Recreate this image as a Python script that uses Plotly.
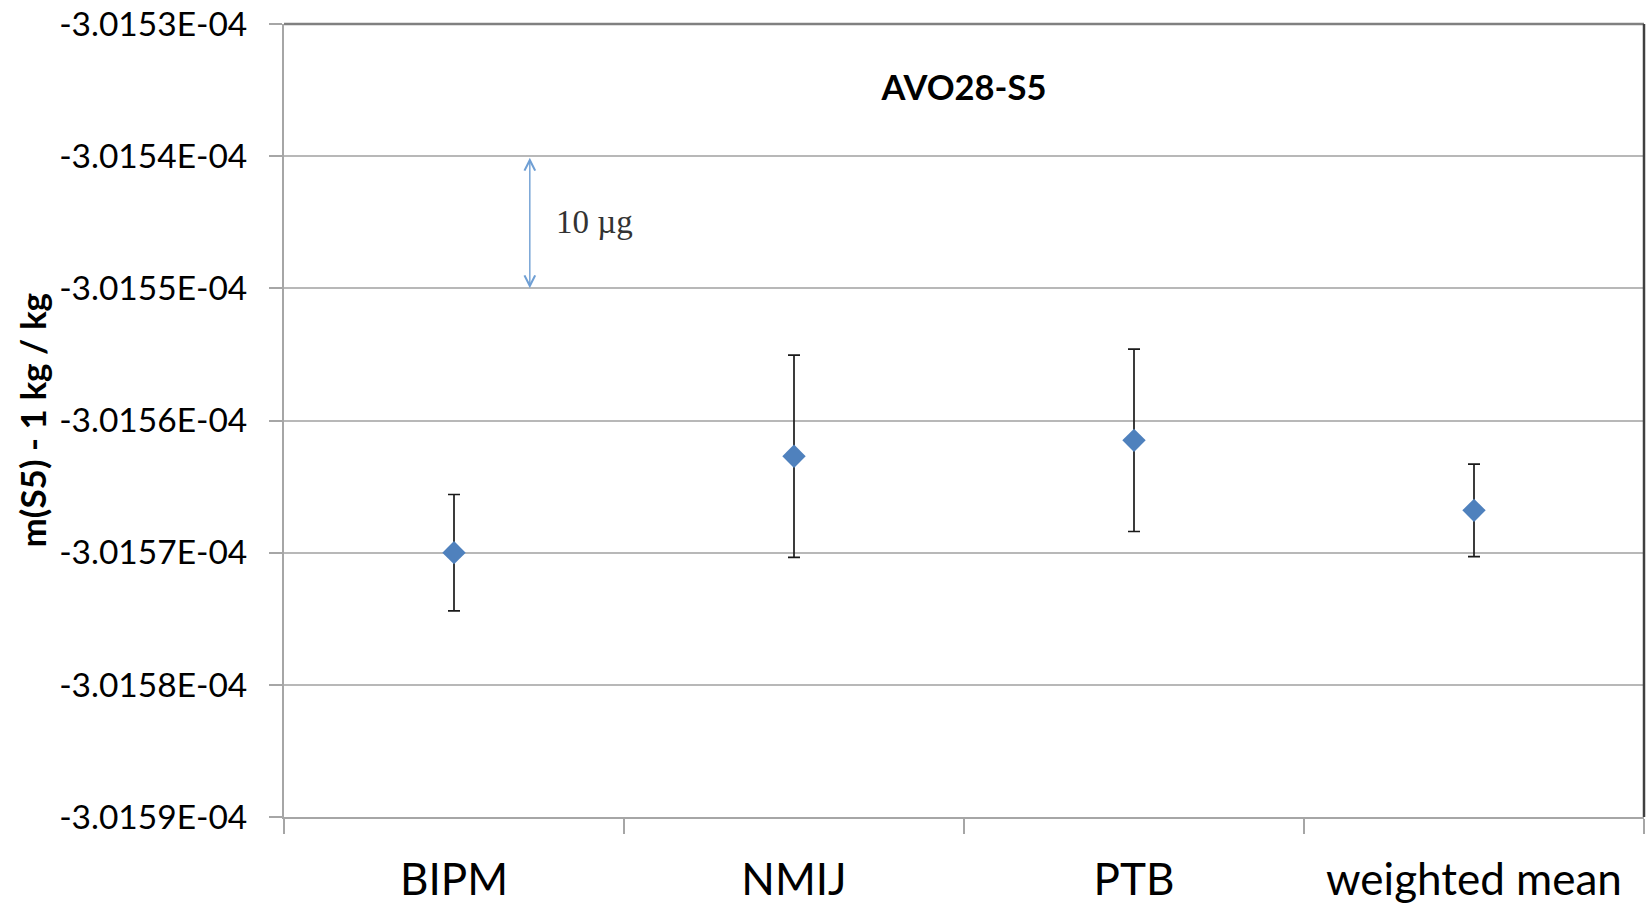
import plotly.graph_objects as go

# ---- data ----
categories = ["BIPM", "NMIJ", "PTB", "weighted mean"]
values = [-3.015700e-4, -3.015627e-4, -3.015615e-4, -3.015668e-4]
errors = [4.4e-9, 7.65e-9, 6.9e-9, 3.5e-9]

y_tickvals = [-3.0153e-4, -3.0154e-4, -3.0155e-4, -3.0156e-4, -3.0157e-4, -3.0158e-4, -3.0159e-4]
y_ticktext = ["-3.0153E-04", "-3.0154E-04", "-3.0155E-04", "-3.0156E-04",
              "-3.0157E-04", "-3.0158E-04", "-3.0159E-04"]
y_range = [-3.0159e-4, -3.0153e-4]

title_text = "AVO28-S5"
y_title = "m(S5) - 1 kg / kg"
scale_label = "10 µg"
scale_from = -3.0154e-4
scale_to = -3.0155e-4

FONT = "Lato"
ERR_COLOR = "#1a1a1a"

fig = go.Figure()

fig.add_trace(go.Scatter(
    x=categories, y=values, mode="markers",
    marker=dict(symbol="diamond", size=18, color="#4F81BD", line=dict(width=0)),
    error_y=dict(type="data", array=errors, visible=True, color=ERR_COLOR,
                 thickness=1.7, width=6),
    showlegend=False,
))

fig.update_layout(
    width=1646, height=906,
    margin=dict(l=284, r=2, t=24, b=86),
    paper_bgcolor="white", plot_bgcolor="white",
    font=dict(family=FONT, color="#000000"),
    title=dict(text="<b>" + title_text + "</b>", x=0.5, xref="paper",
               y=1 - 88 / 906, yref="container", yanchor="middle", xanchor="center",
               font=dict(family=FONT, size=34.5, color="#000000")),
    xaxis=dict(
        type="category", range=[-0.5, 3.5],
        showgrid=False, showline=True, linecolor="#a6a6a6", linewidth=2,
        ticks="outside", tickson="boundaries", ticklen=15, tickcolor="#a6a6a6", tickwidth=2,
        tickfont=dict(family=FONT, size=44, color="#000000"),
        ticklabelstandoff=23,
        zeroline=False,
    ),
    yaxis=dict(
        range=y_range, tickvals=y_tickvals, ticktext=y_ticktext,
        showgrid=True, gridcolor="#b8b8b8", gridwidth=2,
        showline=True, linecolor="#a6a6a6", linewidth=2,
        ticks="outside", ticklen=13, tickcolor="#a6a6a6", tickwidth=2,
        tickfont=dict(family=FONT, size=33.5, color="#000000"),
        ticklabelstandoff=15,
        zeroline=False,
    ),
    shapes=[
        dict(type="line", xref="paper", yref="paper", x0=0, x1=1, y0=1, y1=1,
             line=dict(color="#808080", width=2.5)),
        dict(type="line", xref="paper", yref="paper", x0=1, x1=1, y0=0, y1=1,
             line=dict(color="#404040", width=2.5)),
    ],
    annotations=[
        dict(text="<b>" + y_title + "</b>", xref="paper", yref="paper",
             x=(31 - 284) / 1360, y=0.5, textangle=-90, showarrow=False,
             xanchor="center", yanchor="middle",
             font=dict(family=FONT, size=35, color="#000000")),
        dict(x=0.223, y=scale_to, xref="x", yref="y",
             ax=0.223, ay=scale_from, axref="x", ayref="y",
             text="", showarrow=True, arrowside="end+start", arrowhead=5,
             arrowsize=1.5, arrowwidth=1.4, arrowcolor="#6f9fd4", standoff=0, startstandoff=0),
        dict(x=0.293, y=(scale_from + scale_to) / 2, xref="x", yref="y",
             text=scale_label, showarrow=False, xanchor="left", yanchor="middle",
             font=dict(family="Liberation Serif", size=33, color="#333333")),
    ],
)

fig.write_html(
    "out.html",
    config={"displayModeBar": False},
    post_script="document.body.style.margin='0';document.body.style.overflow='hidden';",
)
